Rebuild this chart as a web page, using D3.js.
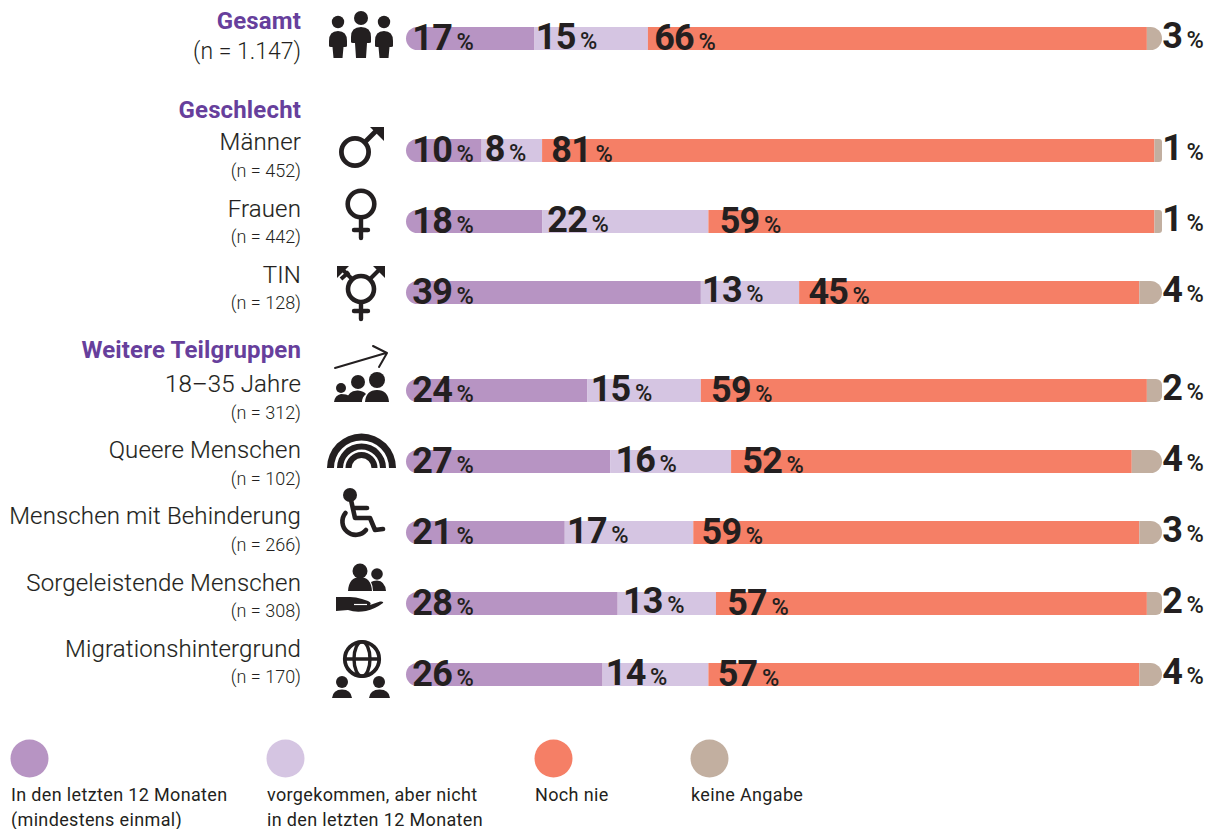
<!DOCTYPE html>
<html lang="de"><head><meta charset="utf-8">
<script src="https://cdnjs.cloudflare.com/ajax/libs/d3/7.8.5/d3.min.js"></script>
<style>
html,body{margin:0;padding:0;background:#fff}
svg{display:block}
text{font-family:Roboto,sans-serif;fill:#231f20}
</style></head><body>
<svg id="chart" width="1212" height="829"></svg>
<script>
// ---- data ----
const groupNames = ["Gesamt", "Männer", "Frauen", "TIN", "18–35 Jahre", "Queere Menschen", "Menschen mit Behinderung", "Sorgeleistende Menschen", "Migrationshintergrund"];
const sampleLabels = ["(n = 1.147)", "(n = 452)", "(n = 442)", "(n = 128)", "(n = 312)", "(n = 102)", "(n = 266)", "(n = 308)", "(n = 170)"];
const seriesNames = ["In den letzten 12 Monaten (mindestens einmal)", "vorgekommen, aber nicht in den letzten 12 Monaten", "Noch nie", "keine Angabe"];
const letzte12 = [17, 10, 18, 39, 24, 27, 21, 28, 26];
const vorgekommen = [15, 8, 22, 13, 15, 16, 17, 13, 14];
const nochNie = [66, 81, 59, 45, 59, 53, 59, 57, 57];      // length of the bar as drawn
const nochNieLabel = [66, 81, 59, 45, 59, 52, 59, 57, 57]; // number as printed
const keineAngabe = [3, 1, 1, 4, 2, 4, 3, 2, 4];

// ---- layout ----
const colors = ["#b794c3", "#d5c5e2", "#f57f66", "#c2afa0"];
const ink = "#231f20", purple = "#673f9c";
const barTop = [27, 139, 210, 281, 379, 450, 521, 592, 663];
const barH = 23;
const nameBase = [null, 150, 217, 283, 392, 458, 524, 591, 657];
const nBase = [null, 177, 243, 309, 419, 485, 551, 617, 683];
const headings = [["Gesamt", 29], ["Geschlecht", 118], ["Weitere Teilgruppen", 358]];
const pctOffset2 = [46, 28, 50, 46, 48, 50, 47, 50, 48]; // % sign relative to segment start
const pctOffset3 = [51, 54, 56, 54, 55, 56, 53, 56, 54];
const baseLift2 = [1, 1, 1, 2, 1, 1, 1, 2, 1];

const svg = d3.select("#chart");
const x = d3.scaleLinear().domain([0, 100]).range([406, 1162]).clamp(true);
const labelX = 301;

function seg(x0, x1, y, h, rl, rr) {
  const p = d3.path();
  p.moveTo(x0 + rl, y);
  p.lineTo(x1 - rr, y);
  if (rr) p.arcTo(x1, y, x1, y + rr, rr);
  p.lineTo(x1, y + h - rr);
  if (rr) p.arcTo(x1, y + h, x1 - rr, y + h, rr);
  p.lineTo(x0 + rl, y + h);
  if (rl) p.arcTo(x0, y + h, x0, y + h - rl, rl);
  p.lineTo(x0, y + rl);
  if (rl) p.arcTo(x0, y, x0 + rl, y, rl);
  p.closePath();
  return p.toString();
}

const rows = groupNames.map((name, i) => ({
  name, i, vals: [letzte12[i], vorgekommen[i], nochNie[i], keineAngabe[i]]
}));

const row = svg.append("g").selectAll("g").data(rows).join("g");
row.each(function (d) {
  const g = d3.select(this);
  let cum = 0;
  d.vals.forEach((v, s) => {
    const x0 = x(cum), x1 = x(cum + v);
    cum += v;
    const rr = s === 3 ? (v === 1 ? 3 : v === 2 ? 6 : 11.5) : 0;
    g.append("path").attr("d", seg(x0, s === 3 ? x.range()[1] : x1, barTop[d.i], barH, s === 0 ? 11.5 : 0, rr)).attr("fill", colors[s]);
  });
  const bottom = barTop[d.i] + barH;
  const big = (px, base, t) => g.append("text").attr("x", px).attr("y", base).attr("text-anchor", "end")
    .attr("font-size", 36).attr("font-weight", 700).attr("letter-spacing", -0.8).text(t);
  const pct = (px, base) => g.append("text").attr("x", px - 0.5).attr("y", base)
    .attr("font-size", 23.5).attr("font-weight", 500).text("%");
  const cell = (px, base, t) => { big(px - 5, base, t); pct(px, base); };
  const s2 = x(d.vals[0]), s3 = x(d.vals[0] + d.vals[1]);
  cell(457, bottom - 0.5, d.vals[0]);
  cell(s2 + pctOffset2[d.i], bottom - baseLift2[d.i], d.vals[1]);
  cell(s3 + pctOffset3[d.i], bottom - 0.5, nochNieLabel[d.i]);
  cell(1187, bottom - 2.5, d.vals[3]);
});

// left labels
const left = svg.append("g").attr("text-anchor", "end");
left.selectAll("text.h").data(headings).join("text").attr("class", "h")
  .attr("x", labelX).attr("y", d => d[1]).attr("font-size", 24).attr("font-weight", 700)
  .attr("letter-spacing", 0.15).style("fill", purple).text(d => d[0]);
left.selectAll("text.name").data(rows.filter(d => d.i > 0)).join("text").attr("class", "name")
  .attr("x", labelX).attr("y", d => nameBase[d.i]).attr("font-size", 24).attr("font-weight", 300)
  .attr("letter-spacing", 0.15).style("stroke", ink).style("stroke-width", 0.15).text(d => d.name);
left.selectAll("text.n").data(rows).join("text").attr("class", "n")
  .attr("x", labelX).attr("y", d => d.i === 0 ? 59 : nBase[d.i])
  .attr("font-size", d => d.i === 0 ? 23 : 18).attr("font-weight", 300)
  .text(d => sampleLabels[d.i]);

// legend
const legendX = [11, 267, 535, 691];
const legendLines = [["In den letzten 12 Monaten", "(mindestens einmal)"], ["vorgekommen, aber nicht", "in den letzten 12 Monaten"], ["Noch nie"], ["keine Angabe"]];
const leg = svg.append("g").selectAll("g").data(seriesNames).join("g");
leg.append("circle").attr("cx", (d, i) => legendX[i] + 18.5).attr("cy", 758.5).attr("r", 19).attr("fill", (d, i) => colors[i]);
leg.each(function (d, i) {
  d3.select(this).selectAll("text").data(legendLines[i]).join("text")
    .attr("x", legendX[i]).attr("y", (t, k) => 801 + k * 25).attr("font-size", 18).attr("font-weight", 400)
    .attr("letter-spacing", 0.35).text(t => t);
});

// ---- icons ----
const ic = svg.append("g").attr("fill", ink).attr("stroke", "none");
const circ = (cx, cy, r) => ic.append("circle").attr("cx", cx).attr("cy", cy).attr("r", r);
const path = d => ic.append("path").attr("d", d);
const line = (d, w, cap = "round") => ic.append("path").attr("d", d).attr("fill", "none").attr("stroke", ink).attr("stroke-width", w).attr("stroke-linecap", cap).attr("stroke-linejoin", "round");
const ring = (cx, cy, r, w) => ic.append("circle").attr("cx", cx).attr("cy", cy).attr("r", r).attr("fill", "none").attr("stroke", ink).attr("stroke-width", w);
// figure: shoulders + legs
const fig = (cx, top, hw, legw) => path(`M${cx - hw} ${top + 10}Q${cx - hw} ${top} ${cx} ${top}Q${cx + hw} ${top} ${cx + hw} ${top + 10}V${top + 15}Q${cx + hw} ${top + 16} ${cx + hw - 2} ${top + 16}H${cx + legw + 1}L${cx + legw} 58H${cx - legw}L${cx - legw - 1} ${top + 16}H${cx - hw + 2}Q${cx - hw} ${top + 16} ${cx - hw} ${top + 15}Z`);
circ(338, 22, 6.2); circ(361, 18, 7); circ(384, 22, 6.2);
fig(338, 31, 9, 4.5); fig(361, 27, 10, 5); fig(384, 31, 9, 4.5);
// male
ring(355, 152, 13.6, 4.8);
line("M365 142L377 130", 4.8, "butt");
path("M370 127H384V141Z");
// female
ring(361, 204, 13.3, 4.6);
line("M361 218V238M354 230H368", 4.4);
// TIN
ring(361, 289, 13, 4.6);
line("M361 303V319M354 311H368", 4.4);
line("M370 279L380 269", 4, "butt");
path("M373 266H385V278Z");
line("M352 279L342 269M341 279L349 272", 4, "butt");
path("M349 266H337V278Z");
// young people with arrow
line("M335 368L386 353M373 346L387 353L379 367", 2);
circ(341, 388, 5); circ(358, 382, 7); circ(377, 380, 8);
path("M334 402Q335 395 341 394Q347 394 349 396L346 402Z");
path("M345 402Q348 390 358 390.500Q364 391 366 394Q362 397 362 402Z");
path("M365 402Q366 390 377 390Q388 390 389 402Z");
// rainbow
[[34.5, 27.5], [24.5, 18.5], [16, 10]].forEach(([ro, ri]) => {
  path(d3.arc()({ innerRadius: ri, outerRadius: ro, startAngle: -Math.PI / 2, endAngle: Math.PI / 2 }))
    .attr("transform", "translate(361.500,468)");
});
// wheelchair
circ(350, 495, 7);
line("M351 500L355 518H370L375 530L383 529M355 508H367", 4.6);
line("M345.500 513A13 13 0 1 0 366 530", 4.6);
// care: people over hand
circ(360, 571, 7.5); circ(377, 574, 5.8);
path("M348 591Q349 577 360 577Q371 577 372 591Z");
path("M373 591Q373 586 371 582Q373 580.500 377 580.500Q385 581 386 591Z");
path("M336 597H350Q356 597 362 599L368 601Q372 603 370 605L380 601.500Q384 601 383 603Q375 609 366 611Q356 613 348 610L336 611Z");
ic.append("path").attr("d", "M354 604.500H367").attr("stroke", "#fff").attr("stroke-width", 1.2).attr("fill", "none");
// globe with people
ring(362, 659, 17.2, 3.8);
ic.append("ellipse").attr("cx", 362).attr("cy", 659).attr("rx", 8).attr("ry", 17.2).attr("fill", "none").attr("stroke", ink).attr("stroke-width", 3.4);
line("M345 659H379", 3.4, "butt");
circ(342, 682, 6); circ(379, 682, 6);
path("M332 698Q333 689.500 342 689.500Q351 689.500 352 698Z");
path("M369 698Q370 689.500 379.500 689.500Q389 689.500 390 698Z");
</script>
</body></html>
